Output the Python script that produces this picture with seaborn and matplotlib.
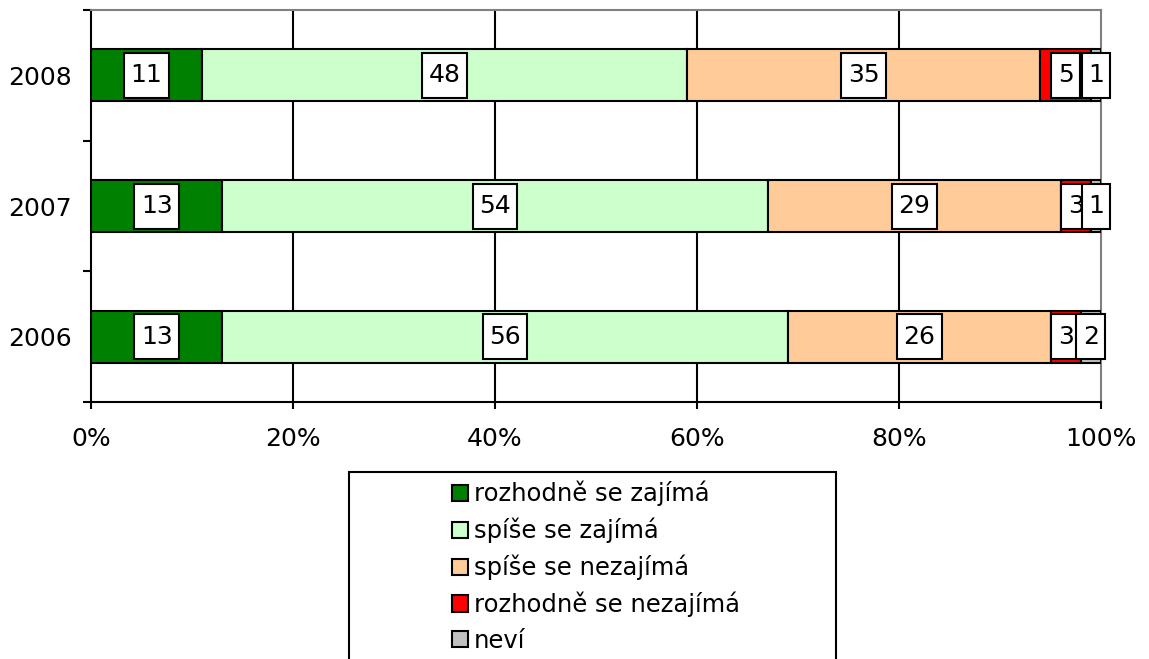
import matplotlib
matplotlib.use("Agg")
import matplotlib.pyplot as plt
import seaborn as sns
import pandas as pd
import numpy as np
from matplotlib.patches import Patch, Rectangle
from matplotlib.path import Path

years = ["2008", "2007", "2006"]
categories = ["rozhodně se zajímá", "spíše se zajímá", "spíše se nezajímá",
              "rozhodně se nezajímá", "neví"]
rozhodne_zajima = [11, 13, 13]
spise_zajima = [48, 54, 56]
spise_nezajima = [35, 29, 26]
rozhodne_nezajima = [5, 3, 3]
nevi = [1, 1, 2]
colors = ["#008000", "#CCFFCC", "#FFCC99", "#FF0000", "#C0C0C0"]

series = [rozhodne_zajima, spise_zajima, spise_nezajima, rozhodne_nezajima, nevi]

sns.set_theme(style="white")
plt.rcParams['font.family'] = ['DejaVu Sans']
plt.rcParams['text.color'] = 'black'
plt.rcParams['xtick.color'] = 'black'
plt.rcParams['ytick.color'] = 'black'
plt.rcParams['axes.labelcolor'] = 'black'

LW = 1.5
FS = 18


def label_box(x0, y0, width, height, mutation_size):
    px = 0.26 * mutation_size
    py = 0.42 * mutation_size
    x0, x1 = x0 - px, x0 + width + px
    y0, y1 = y0 - py, y0 + height + py
    return Path([(x0, y0), (x1, y0), (x1, y1), (x0, y1), (x0, y0)],
                [Path.MOVETO, Path.LINETO, Path.LINETO, Path.LINETO, Path.CLOSEPOLY])


fig = plt.figure(figsize=(11.49, 6.59), dpi=100)
ax = fig.add_axes([91/1149, 1-402/659, (1101-91)/1149, (402-10)/659])

vals = np.array(series, dtype=float)
cum = np.cumsum(vals, axis=0)
starts = cum - vals

for i in range(len(series)):
    df = pd.DataFrame({"year": years, "value": vals[i], "start": starts[i]})
    sns.barplot(data=df, y="year", x="value", order=years, orient="h",
                color=colors[i], saturation=1, width=0.4,
                edgecolor="black", linewidth=LW, left=df["start"].to_numpy(),
                ax=ax, zorder=3)

for i in range(len(series)):
    for j in range(len(years)):
        cx = starts[i][j] + vals[i][j] / 2
        ax.text(cx, j, f"{int(vals[i][j])}", ha="center", va="center",
                fontsize=FS, color="black", zorder=5,
                bbox=dict(boxstyle=label_box, fc="white", ec="black", lw=LW))

ax.set_xlim(0, 100)
ax.set_ylim(2.5, -0.5)
ax.set_xticks([0, 20, 40, 60, 80, 100])
ax.set_xticklabels(["0%", "20%", "40%", "60%", "80%", "100%"], fontsize=FS)
ax.set_yticks([-0.5, 0.5, 1.5, 2.5])
ax.set_yticklabels([])
ax.set_yticks([0, 1, 2], minor=True)
ax.set_yticklabels(years, minor=True, fontsize=FS)
ax.tick_params(axis="y", which="minor", length=0, pad=14)
ax.tick_params(axis="y", which="major", length=6, width=LW, color="black", direction="out", left=True)
ax.tick_params(axis="x", which="major", length=5, width=LW, color="black", direction="out", bottom=True, pad=13)
ax.set_xlabel("")
ax.set_ylabel("")

for x in [20, 40, 60, 80]:
    ax.axvline(x, color="black", lw=LW, zorder=1)

ax.spines["left"].set_color("black")
ax.spines["left"].set_linewidth(LW)
ax.spines["bottom"].set_color("black")
ax.spines["bottom"].set_linewidth(LW)
ax.spines["top"].set_color("#808080")
ax.spines["top"].set_linewidth(LW)
ax.spines["right"].set_color("#808080")
ax.spines["right"].set_linewidth(LW)

# legend frame (wider than its content, runs past the bottom edge)
fig.patches.append(Rectangle((349/1149, -0.05), (836-349)/1149, (1-472/659) + 0.05,
                             transform=fig.transFigure, fill=False,
                             edgecolor="black", linewidth=LW, zorder=1))

handles = [Patch(facecolor=c, edgecolor="black", linewidth=LW) for c in colors]
leg = fig.legend(handles, categories, loc="upper left",
                 bbox_to_anchor=(447/1149, 1-476/659), ncol=1, fontsize=17.5,
                 frameon=False,
                 handlelength=0.65, handleheight=0.65, handletextpad=0.25,
                 labelspacing=0.47, borderpad=0.2, borderaxespad=0)

fig.savefig("out.png", dpi=100)
